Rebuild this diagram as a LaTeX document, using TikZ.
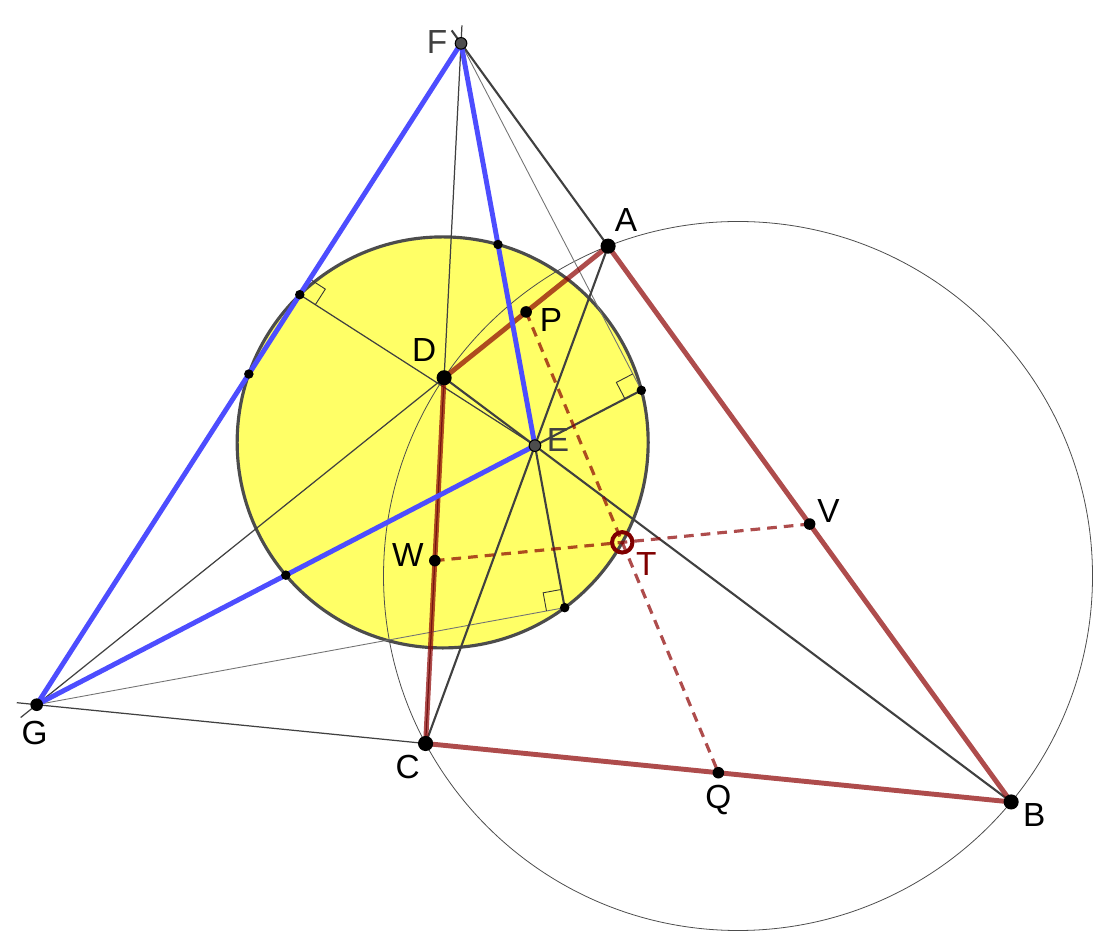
\documentclass[tikz,border=0pt]{standalone}
\usepackage{fontspec}
\setmainfont{Liberation Sans}
\usepackage{xcolor}
\usetikzlibrary{calc}
\definecolor{quadred}{RGB}{140,0,0}
\definecolor{triblue}{RGB}{77,77,255}
\definecolor{ninefill}{RGB}{255,255,102}
\definecolor{darkline}{RGB}{64,64,64}
\definecolor{ptgray}{RGB}{77,77,77}
\definecolor{tred}{RGB}{128,0,0}

\begin{document}
\begin{tikzpicture}[
    thinline/.style={line width=0.7pt,darkline},
    faintline/.style={line width=0.5pt,black!55},
    midline/.style={line width=1.2pt,darkline},
    quadside/.style={line width=2.8pt,quadred,opacity=0.7,line join=round},
    triside/.style={line width=2.8pt,triblue,line join=round},
    bimedian/.style={line width=1.8pt,quadred,opacity=0.7,dash pattern=on 5.5pt off 4pt},
    rightmark/.style={line width=0.5pt,black!80},
    lbl/.style={font=\fontsize{19}{21}\selectfont,inner sep=0pt}
]
    % Frame
    \useasboundingbox (0,0) rectangle (22.12,18.74);

    % Cyclic quadrilateral ABCD
    \coordinate (O) at (14.76,7.22);
    \coordinate (A) at ($(O)+(111.5:7.09)$);
    \coordinate (B) at ($(O)+(-39.6:7.09)$);
    \coordinate (C) at ($(O)+(208.2:7.09)$);
    \coordinate (D) at ($(O)+(146:7.09)$);

    % Diagonal points
    \coordinate (E) at (intersection of A--C and B--D);
    \coordinate (F) at (intersection of A--B and C--D);
    \coordinate (G) at (intersection of A--D and B--C);

    % Midpoints of the sides and centroid
    \coordinate (P) at ($(A)!0.5!(D)$);
    \coordinate (Q) at ($(C)!0.5!(B)$);
    \coordinate (V) at ($(A)!0.5!(B)$);
    \coordinate (W) at ($(D)!0.5!(C)$);
    \coordinate (T) at ($(P)!0.5!(Q)$);

    % Feet of the altitudes and midpoints of EFG
    \coordinate (HE) at ($(F)!(E)!(G)$);
    \coordinate (HF) at ($(G)!(F)!(E)$);
    \coordinate (HG) at ($(F)!(G)!(E)$);
    \coordinate (MEF) at ($(E)!0.5!(F)$);
    \coordinate (MFG) at ($(F)!0.5!(G)$);
    \coordinate (MGE) at ($(G)!0.5!(E)$);
    \coordinate (MGO) at ($(G)!0.5!(O)$);
    \coordinate (N) at ($(MEF)!0.5!(MGO)$);

    % Line ends beyond F and G
    \coordinate (Ftop) at ($(F)!-0.36cm!(C)$);
    \coordinate (Fup) at ($(F)!-0.32cm!(A)$);
    \coordinate (Gleft) at ($(G)!-0.4cm!(C)$);
    \coordinate (Glow) at ($(G)!-0.41cm!(D)$);

    % Nine-point circle
    \draw[line width=1.8pt,black!70,fill=ninefill]
        let \p1=($(MEF)-(N)$), \n1={veclen(\x1,\y1)} in (N) circle (\n1);

    % Circumcircle
    \draw[line width=0.45pt,black!70] (O) circle (7.09);

    % Construction lines
    \draw[thinline] (Ftop) -- (C);
    \draw[thinline] (Gleft) -- (C);
    \draw[thinline] (Glow) -- (D);
    \draw[thinline] (HE) -- (E);
    \draw[faintline] (F) -- (HF);
    \draw[faintline] (G) -- (HG);
    \draw[midline] (Fup) -- (A);
    \draw[midline] (A) -- (C);
    \draw[midline] (D) -- (B);
    \draw[midline] (E) -- (HF);
    \draw[midline] (E) -- (HG);

    % Right angles
    \foreach \h/\p/\q in {HE/F/E, HF/F/E, HG/G/E}
    {
        \coordinate (r1) at ($(\h)!0.37cm!(\p)$);
        \coordinate (r2) at ($(\h)!0.37cm!(\q)$);
        \draw[rightmark] (r1) -- ($(r1)+(r2)-(\h)$) -- (r2);
    }

    % Bimedians
    \draw[bimedian] (P) -- (Q);
    \draw[bimedian] (W) -- (V);

    % Quadrilateral and diagonal triangle
    \draw[quadside] (A) -- (B) -- (C) -- (D) -- cycle;
    \draw[triside] (F) -- (G) -- (E) -- cycle;

    % Points
    \foreach \p in {A,B,C,D}
        \fill (\p) circle (4.3pt);
    \fill (G) circle (3.6pt);
    \foreach \p in {P,Q,V,W}
        \fill (\p) circle (3.3pt);
    \foreach \p in {HE,HF,HG,MEF,MFG,MGE}
        \fill (\p) circle (2.7pt);
    \foreach \p in {E,F}
        \filldraw[fill=ptgray,draw=black,line width=0.6pt] (\p) circle (3.3pt);
    \draw[tred,line width=2.3pt] (T) circle (5.8pt);

    % Labels
    \node[lbl] (lA) at ($(A)+(0.36,0.52)$) {A};
    \node[lbl] (lB) at ($(B)+(0.46,-0.26)$) {B};
    \node[lbl] (lC) at ($(C)+(-0.36,-0.48)$) {C};
    \node[lbl] (lD) at ($(D)+(-0.4,0.56)$) {D};
    \node[lbl,darkline] (lE) at ($(E)+(0.46,0.12)$) {E};
    \node[lbl,darkline] (lF) at ($(F)+(-0.48,0.02)$) {F};
    \node[lbl] (lG) at ($(G)+(-0.04,-0.56)$) {G};
    \node[lbl] (lP) at ($(P)+(0.5,-0.16)$) {P};
    \node[lbl] (lQ) at ($(Q)+(0,-0.54)$) {Q};
    \node[lbl] (lV) at ($(V)+(0.38,0.26)$) {V};
    \node[lbl] (lW) at ($(W)+(-0.54,0.12)$) {W};
    \node[lbl,tred] (lT) at ($(T)+(0.48,-0.44)$) {T};
\end{tikzpicture}
\end{document}
